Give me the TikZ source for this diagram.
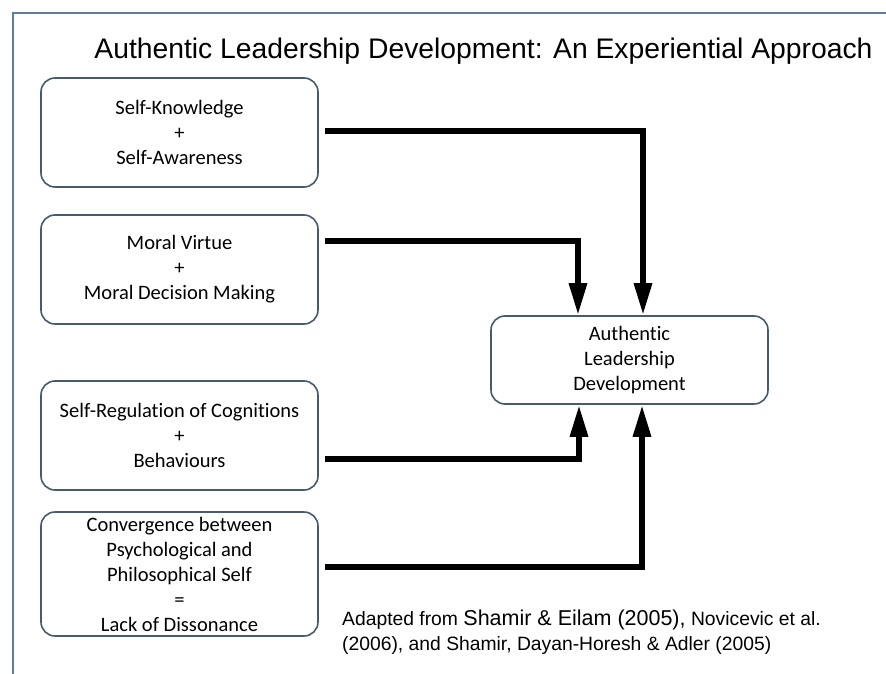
\documentclass[tikz,border=0pt]{standalone}
\usepackage{fontspec}
\setmainfont{Carlito}[Ligatures=NoCommon]
\newfontfamily\arialfont{Liberation Sans}
\usetikzlibrary{arrows.meta,calc}
\definecolor{al_frame}{RGB}{96, 124, 160}
\definecolor{al_edge}{RGB}{72, 90, 108}
\tikzstyle{sb}=[rectangle,rounded corners=14pt,fill=white,draw=al_edge,
  line width=1.6pt,inner sep=0pt,minimum width=277pt,minimum height=109pt,
  align=center,font=\fontsize{20.5}{25}\selectfont]
\tikzstyle{flow}=[line width=6pt,-{Triangle[length=32pt,width=17pt]}]
\tikzstyle{note}=[anchor=base west,inner sep=0pt,font=\arialfont\fontsize{19.3}{23}\selectfont]
\tikzstyle{none}=[inner sep=0pt]

\begin{document}
\begin{tikzpicture}[x=1pt,y=-1pt]
            \useasboundingbox (0, 0) rectangle (886, 674);
            \draw [draw=al_frame, line width=2pt] (13, 674) -- (13, 13) -- (886, 13);
            \node [anchor=base, font=\arialfont\fontsize{28.3}{33}\selectfont] (5) at (483.5, 59) {Authentic Leadership Development: An Experiential Approach};
            \node [style=sb, minimum height=88pt] (0) at (629.5, 360) {Authentic\\Leadership\\Development};
            \node [style=sb] (1) at (179.5, 132.5) {Self-Knowledge\\+\\Self-Awareness};
            \node [style=sb] (2) at (179.5, 269.5) {Moral Virtue\\+\\Moral Decision Making};
            \node [style=sb] (3) at (179.5, 435.5) {Self-Regulation of Cognitions\\+\\Behaviours};
            \node [style=sb, minimum height=124pt] (4) at (179.5, 574) {Convergence between\\Psychological and\\Philosophical Self\\=\\Lack of Dissonance};
            \node [style=none] (10) at (325, 131) {};
            \node [style=none] (11) at (643, 131) {};
            \node [style=none] (12) at (325, 241) {};
            \node [style=none] (13) at (578, 241) {};
            \node [style=none] (14) at (325, 459) {};
            \node [style=none] (15) at (579, 459) {};
            \node [style=none] (16) at (325, 567) {};
            \node [style=none] (17) at (642, 567) {};
            \draw [style=flow] (10.center) to (11.center) to (0.north -| 11);
            \draw [style=flow] (12.center) to (13.center) to (0.north -| 13);
            \draw [style=flow] (14.center) to (15.center) to (0.south -| 15);
            \draw [style=flow] (16.center) to (17.center) to (0.south -| 17);
            \node [style=note] (6) at (342, 625) {Adapted from {\fontsize{21.5}{25}\selectfont Shamir \& Eilam (2005),} Novicevic et al.};
            \node [style=note] (7) at (342, 650) {(2006), and Shamir, Dayan-Horesh \& Adler (2005)};
    \end{tikzpicture}
\end{document}
